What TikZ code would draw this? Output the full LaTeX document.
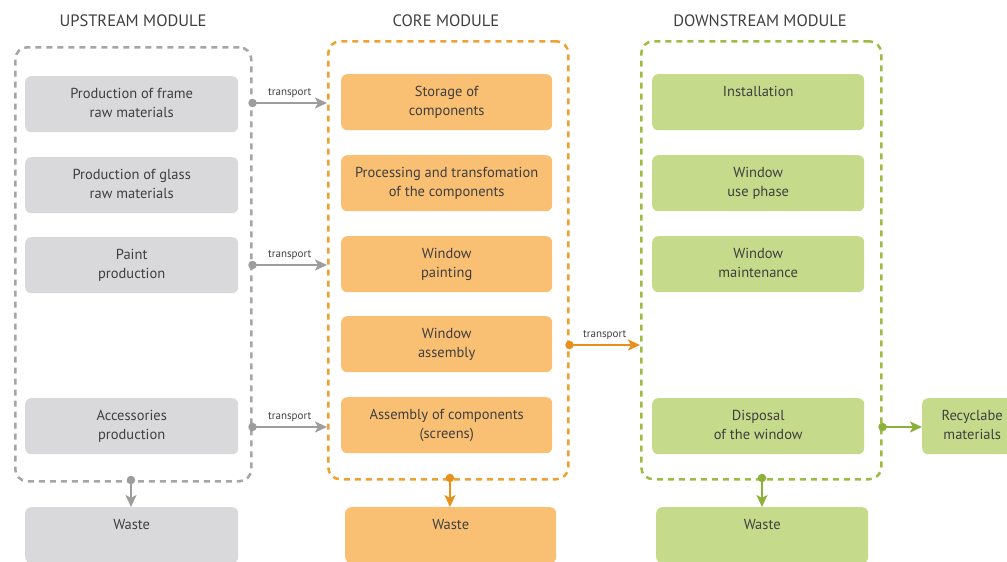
\documentclass[tikz,border=0pt]{standalone}
\usepackage{fontspec}
\setmainfont{PT Sans}
\usetikzlibrary{arrows.meta}
\definecolor{gbox}{HTML}{D9D9DB}
\definecolor{gdash}{HTML}{A6A6A6}
\definecolor{garr}{HTML}{9D9D9D}
\definecolor{obox}{HTML}{F9BF73}
\definecolor{odash}{HTML}{EDA233}
\definecolor{oarr}{HTML}{E8901C}
\definecolor{lbox}{HTML}{C6DA8B}
\definecolor{ldash}{HTML}{9EBB45}
\definecolor{larr}{HTML}{8BB13A}
\definecolor{txt}{HTML}{3F3F3F}
\newcommand\bxt[2][213pt]{\parbox[c][56pt][t]{#1}{\centering\rule{0pt}{22pt}#2\par}}
\tikzset{
  procbox/.style={rounded corners=6pt, inner sep=0pt, anchor=north west, text=txt,
    font=\fontsize{14.5}{19.5}\selectfont},
  module/.style={draw, line width=2.5pt, dash pattern=on 6pt off 5pt, rounded corners=12pt,
    inner sep=0pt, anchor=north west},
  title/.style={text=txt, font=\fontsize{16.5}{18}\selectfont},
  tlabel/.style={text=txt, font=\fontsize{11}{12}\selectfont, inner sep=0pt},
  flow/.style={line width=2.8pt, -{Stealth[length=12pt,width=11pt,inset=3pt]}},
  dot/.style={circle, fill, inner sep=0pt, minimum size=8.5pt},
}
\begin{document}
\begin{tikzpicture}[x=1pt,y=-1pt]
\useasboundingbox (0,0) rectangle (1007,562);
\clip (0,0) rectangle (1007,562);
% titles
\node[title] (tU) at (133,21) {UPSTREAM MODULE};
\node[title] (tC) at (446,21) {CORE MODULE};
\node[title] (tD) at (760,21) {DOWNSTREAM MODULE};
% module frames
\node[module, draw=gdash, minimum width=236pt, minimum height=434pt] (up) at (14,46) {};
\node[module, draw=odash, minimum width=240pt, minimum height=438pt] (core) at (327,40) {};
\node[module, draw=ldash, minimum width=240pt, minimum height=438pt] (down) at (640,40) {};
% upstream
\node[procbox, fill=gbox] (u1) at (25,76) {\bxt{Production of frame\\raw materials}};
\node[procbox, fill=gbox] (u2) at (25,157) {\bxt{Production of glass\\raw materials}};
\node[procbox, fill=gbox] (u3) at (25,237) {\bxt{Paint\\production}};
\node[procbox, fill=gbox] (u4) at (25,398) {\bxt{Accessories\\production}};
\node[procbox, fill=gbox] (uw) at (25,507) {\bxt{Waste}};
% core
\node[procbox, fill=obox] (c1) at (341,74) {\bxt[211pt]{Storage of\\components}};
\node[procbox, fill=obox] (c2) at (341,155) {\bxt[211pt]{Processing and transfomation\\of the components}};
\node[procbox, fill=obox] (c3) at (341,236) {\bxt[211pt]{Window\\painting}};
\node[procbox, fill=obox] (c4) at (341,316) {\bxt[211pt]{Window\\assembly}};
\node[procbox, fill=obox] (c5) at (341,397) {\bxt[211pt]{Assembly of components\\(screens)}};
\node[procbox, fill=obox] (cw) at (345,507) {\bxt[211pt]{Waste}};
% downstream
\node[procbox, fill=lbox] (d1) at (652,74) {\bxt[212pt]{Installation}};
\node[procbox, fill=lbox] (d2) at (652,155) {\bxt[212pt]{Window\\use phase}};
\node[procbox, fill=lbox] (d3) at (652,236) {\bxt[212pt]{Window\\maintenance}};
\node[procbox, fill=lbox] (d4) at (652,398) {\bxt[212pt]{Disposal\\of the window}};
\node[procbox, fill=lbox] (dw) at (656,507) {\bxt[212pt]{Waste}};
\node[procbox, fill=lbox] (rec) at (922,398) {\bxt[100pt]{Recyclabe\\materials}};
% transport arrows
\coordinate (au1) at (250,103);
\coordinate (au3) at (250,265);
\coordinate (au4) at (250,427);
\draw[flow, garr] (up.east |- au1) coordinate (s1) -- (core.west |- au1) node[tlabel, midway, above=4pt] (l1) {transport};
\node[dot, garr] (p1) at (s1) {};
\draw[flow, garr] (up.east |- au3) coordinate (s3) -- (core.west |- au3) node[tlabel, midway, above=4pt] (l3) {transport};
\node[dot, garr] (p3) at (s3) {};
\draw[flow, garr] (up.east |- au4) coordinate (s4) -- (core.west |- au4) node[tlabel, midway, above=4pt] (l4) {transport};
\node[dot, garr] (p4) at (s4) {};
\coordinate (ac4) at (567,345);
\draw[flow, oarr] (core.east |- ac4) coordinate (s5) -- (down.west |- ac4) node[tlabel, midway, above=4pt] (l5) {transport};
\node[dot, oarr] (p5) at (s5) {};
\coordinate (ad4) at (878,427);
\draw[flow, larr] (down.east |- ad4) coordinate (s6) -- (rec.west |- ad4);
\node[dot, larr] (p6) at (s6) {};
% waste arrows
\coordinate (wu) at (131,480);
\coordinate (wc) at (450,478);
\coordinate (wd) at (762,478);
\node[dot, garr] (q1) at (wu) {};
\draw[flow, garr] (wu) -- (wu |- uw.north);
\node[dot, oarr] (q2) at (wc) {};
\draw[flow, oarr] (wc) -- (wc |- cw.north);
\node[dot, larr] (q3) at (wd) {};
\draw[flow, larr] (wd) -- (wd |- dw.north);
\end{tikzpicture}
\end{document}
